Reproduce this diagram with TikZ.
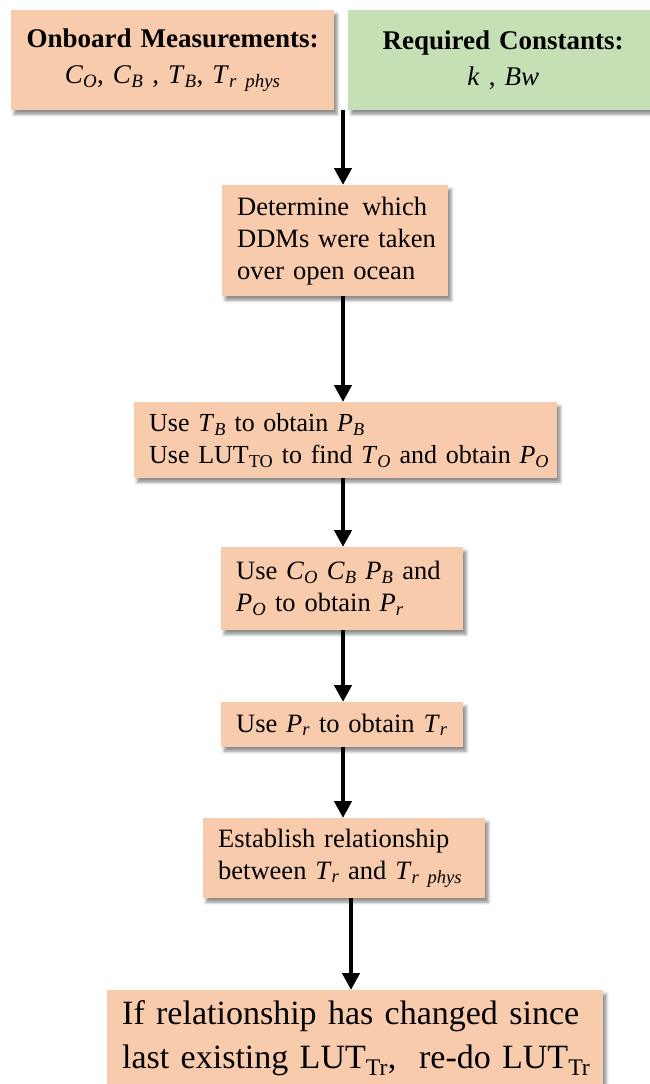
\documentclass[tikz,border=0pt]{standalone}
\usepackage{fontspec}
\setmainfont{Liberation Serif}
\usetikzlibrary{arrows.meta,shadows.blur}

\definecolor{boxorange}{RGB}{248,203,173}
\definecolor{boxgreen}{RGB}{197,224,180}

% italic symbol with italic subscript
\newcommand{\vsub}[2]{\textit{#1}\textsubscript{\textit{#2}}}

\begin{document}
\begin{tikzpicture}[x=1pt,y=-1pt,
  shade/.style={blur shadow={shadow xshift=3pt,shadow yshift=-4pt,shadow blur radius=3pt,shadow opacity=45}},
  stepbox/.style={shade,fill=boxorange,anchor=north west,inner xsep=15pt,inner ysep=0pt,
    align=left,font=\fontsize{26.5}{32}\selectfont},
  headbox/.style={shade,anchor=north west,inner xsep=10pt,inner ysep=0pt,
    align=center,font=\fontsize{27}{36}\selectfont},
  flow/.style={line width=4.5pt,-{Triangle[width=17pt,length=17pt]}}]
\useasboundingbox (0,0) rectangle (650,1084);

% inputs
\node[headbox,fill=boxorange,text width=303pt,minimum height=100pt] (meas) at (11,10)
  {\textbf{Onboard Measurements:}\\
   \vsub{C}{O}, \vsub{C}{B} , \vsub{T}{B}, \vsub{T}{r phys}};
\node[headbox,fill=boxgreen,text width=290pt,minimum height=100pt] (const) at (348,10)
  {\textbf{Required Constants:}\\ \textit{k} , \textit{Bw}};

% processing steps
\node[stepbox,text width=196pt,minimum height=111pt] (ocean) at (222,185)
  {\mbox{Determine\ \,which}\\ \mbox{DDMs were taken}\\ \mbox{over open ocean}};
\node[stepbox,text width=393pt,minimum height=76pt,
      font=\fontsize{26}{32}\selectfont] (power) at (134,402)
  {\mbox{Use \vsub{T}{B} to obtain \vsub{P}{B}}\\
   \mbox{Use LUT\textsubscript{TO} to find \vsub{T}{O} and obtain \vsub{P}{O}}};
\node[stepbox,text width=212pt,minimum height=83pt] (pr) at (221,547)
  {\mbox{Use \vsub{C}{O} \vsub{C}{B} \vsub{P}{B} and}\\ \mbox{\vsub{P}{O} to obtain \vsub{P}{r}}};
\node[stepbox,text width=212pt,minimum height=45pt] (tr) at (221,702)
  {\mbox{Use \vsub{P}{r} to obtain \vsub{T}{r}}};
\node[stepbox,text width=252pt,minimum height=80pt] (rel) at (203,818)
  {\mbox{Establish relationship}\\ \mbox{between \vsub{T}{r} and \vsub{T}{r phys}}};
\node[stepbox,text width=466pt,minimum height=96pt,
      font=\fontsize{34}{44}\selectfont] (redo) at (107,990)
  {\mbox{If relationship has changed since}\\
   \mbox{last existing LUT\textsubscript{Tr},\ \ re-do LUT\textsubscript{Tr}}};

% flow of the procedure
\coordinate (ax) at (343,0);
\coordinate (bx) at (351,0);
\draw[flow] (meas.south -| ax) -- (ocean.north -| ax);
\draw[flow] (ocean.south -| ax) -- (power.north -| ax);
\draw[flow] (power.south -| ax) -- (pr.north -| ax);
\draw[flow] (pr.south -| ax) -- (tr.north -| ax);
\draw[flow] (tr.south -| ax) -- (rel.north -| ax);
\draw[flow] (rel.south -| bx) -- (redo.north -| bx);
\end{tikzpicture}
\end{document}
